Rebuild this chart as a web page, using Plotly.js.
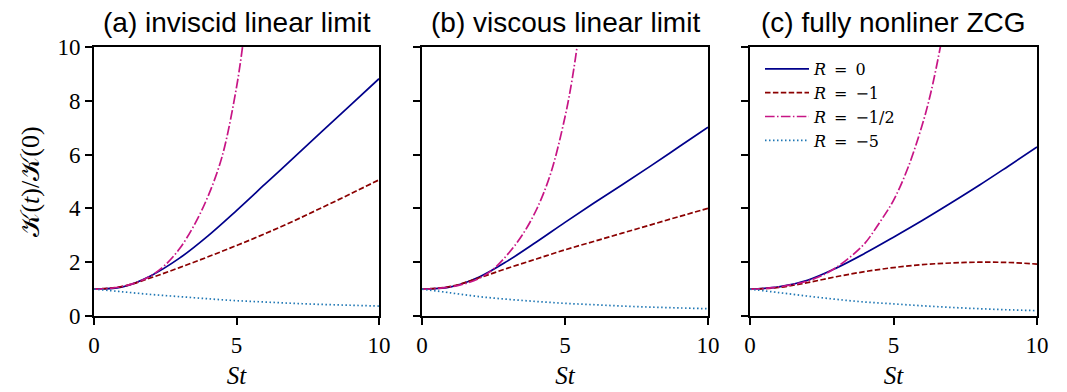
<!DOCTYPE html>
<html><head><meta charset="utf-8">
<script src="https://cdn.plot.ly/plotly-3.0.1.min.js"></script>
<style>html,body{margin:0;padding:0;background:#fff}#chart{width:1067px;height:392px}</style>
</head><body><div id="chart"></div>
<script>
// ---- data ----
const panelTitles = ['(a) inviscid linear limit', '(b) viscous linear limit', '(c) fully nonliner ZCG'];
const seriesNames = ['<i>R</i>\u2002=\u20020', '<i>R</i>\u2002=\u2002−1', '<i>R</i>\u2002=\u2002−1/2', '<i>R</i>\u2002=\u2002−5'];
const tGrid = [0, 1, 2, 3, 4, 5, 6, 7, 8, 9, 10];

// (a) inviscid linear limit
const a_R0   = [1, 1.08, 1.50, 2.15, 2.98, 3.92, 4.90, 5.88, 6.86, 7.84, 8.82];
const a_Rm1  = [1, 1.10, 1.42, 1.80, 2.20, 2.62, 3.06, 3.53, 4.03, 4.54, 5.06];
const a_Rm5  = [1, 0.90, 0.80, 0.72, 0.64, 0.57, 0.52, 0.47, 0.43, 0.40, 0.37];
const a_tRh  = [0, 0.5, 1, 1.5, 2, 2.5, 3, 3.5, 4, 4.5, 5, 5.25, 5.4];
const a_Rh   = [1, 1.02, 1.10, 1.25, 1.50, 1.90, 2.50, 3.35, 4.45, 5.95, 8.5, 10.3, 11.5];

// (b) viscous linear limit
const b_R0   = [1, 1.08, 1.45, 2.05, 2.75, 3.48, 4.19, 4.88, 5.58, 6.30, 7.02];
const b_Rm1  = [1, 1.10, 1.42, 1.78, 2.12, 2.46, 2.77, 3.08, 3.39, 3.70, 4.00];
const b_Rm5  = [1, 0.86, 0.72, 0.62, 0.54, 0.47, 0.42, 0.37, 0.33, 0.30, 0.27];
const b_tRh  = [0, 0.5, 1, 1.5, 2, 2.5, 3, 3.5, 4, 4.5, 5, 5.25, 5.5, 5.6];
const b_Rh   = [1, 1.02, 1.08, 1.20, 1.40, 1.75, 2.30, 3.00, 3.95, 5.30, 7.40, 8.80, 10.6, 11.4];

// (c) fully nonlinear ZCG
const c_R0   = [1, 1.08, 1.33, 1.78, 2.33, 2.93, 3.55, 4.20, 4.87, 5.57, 6.28];
const c_Rm1  = [1, 1.06, 1.24, 1.46, 1.65, 1.80, 1.91, 1.97, 2.00, 1.99, 1.93];
const c_Rm5  = [1, 0.87, 0.74, 0.62, 0.52, 0.45, 0.38, 0.32, 0.27, 0.23, 0.20];
const c_tRh  = [0, 0.5, 1, 1.5, 2, 2.5, 3, 3.5, 4, 4.5, 5, 5.5, 6, 6.3, 6.65, 6.8];
const c_Rh   = [1, 1.02, 1.08, 1.17, 1.30, 1.50, 1.80, 2.20, 2.70, 3.45, 4.30, 5.50, 7.10, 8.30, 10.1, 11.0];

const xTicks = [0, 5, 10];
const yTicks = [0, 2, 4, 6, 8, 10];

// ---- styles ----
const styles = [
  {color: '#00008b', dash: 'solid'},
  {color: '#8b0000', dash: '5.5px,2.4px'},
  {color: '#c71585', dash: '9.6px,2.4px,1.5px,2.4px'},
  {color: '#1f77b4', dash: '1.5px,2.5px'}
];

const panels = [
  {series: [[tGrid, a_R0], [tGrid, a_Rm1], [a_tRh, a_Rh], [tGrid, a_Rm5]]},
  {series: [[tGrid, b_R0], [tGrid, b_Rm1], [b_tRh, b_Rh], [tGrid, b_Rm5]]},
  {series: [[tGrid, c_R0], [tGrid, c_Rm1], [c_tRh, c_Rh], [tGrid, c_Rm5]]}
];

const W = 1067, H = 392;
const xDomains = [[94/W, 379/W], [422/W, 708/W], [750/W, 1037/W]];
const yDomain = [1 - 316/H, 1 - 47/H];

const traces = [];
panels.forEach((p, pi) => {
  p.series.forEach((s, si) => {
    traces.push({
      x: s[0], y: s[1], type: 'scatter', mode: 'lines',
      name: seriesNames[si],
      showlegend: pi === 2,
      xaxis: pi === 0 ? 'x' : 'x' + (pi + 1),
      yaxis: pi === 0 ? 'y' : 'y' + (pi + 1),
      line: {color: styles[si].color, dash: styles[si].dash, width: 1.7, shape: 'spline', smoothing: 1},
      hoverinfo: 'skip'
    });
  });
});

const serif = 'Liberation Serif, DejaVu Serif, serif';
const tickFont = {family: serif, size: 23, color: '#000'};
const layout = {
  width: W, height: H,
  margin: {l: 0, r: 0, t: 0, b: 0},
  paper_bgcolor: '#fff', plot_bgcolor: '#fff',
  showlegend: true,
  legend: {x: 760/W, y: 1 - 52/H, xanchor: 'left', yanchor: 'top',
           bgcolor: 'rgba(0,0,0,0)', font: {family: 'DejaVu Serif, serif', size: 16, color: '#000'},
           tracegroupgap: 0, itemwidth: 44},
  annotations: []
};
xDomains.forEach((d, i) => {
  const sx = i === 0 ? '' : String(i + 1);
  layout['xaxis' + sx] = {
    domain: d, range: [0, 10], anchor: 'y' + sx,
    tickvals: xTicks, ticktext: xTicks.map(String), ticks: 'outside', ticklen: 7, tickwidth: 2, tickcolor: '#000',
    showline: true, linewidth: 2, linecolor: '#000', mirror: true, showgrid: false, zeroline: false,
    tickfont: tickFont,
    title: {text: '<i>St</i>', font: {family: serif, size: 25, color: '#000'}, standoff: 10}
  };
  layout['yaxis' + sx] = {
    domain: yDomain, range: [0, 10], anchor: 'x' + sx,
    tickvals: yTicks, ticktext: yTicks.map(String), ticks: 'outside', ticklen: 7, tickwidth: 2, tickcolor: '#000',
    showline: true, linewidth: 2, linecolor: '#000', mirror: true, showgrid: false, zeroline: false,
    showticklabels: i === 0, tickfont: tickFont,
    title: i === 0 ? {text: '𝒦(<i>t</i>)/𝒦(0)', font: {family: serif, size: 26, color: '#000'}, standoff: 10} : {text: ''}
  };
  layout.annotations.push({
    text: panelTitles[i], xref: 'paper', yref: 'paper',
    x: (d[0] + d[1]) / 2, y: 1 - 23/H, xanchor: 'center', yanchor: 'middle',
    showarrow: false, font: {family: 'Liberation Sans, Arial, sans-serif', size: 28, color: '#000'}
  });
});

Plotly.newPlot('chart', traces, layout, {displayModeBar: false, staticPlot: true});
</script>
</body></html>
